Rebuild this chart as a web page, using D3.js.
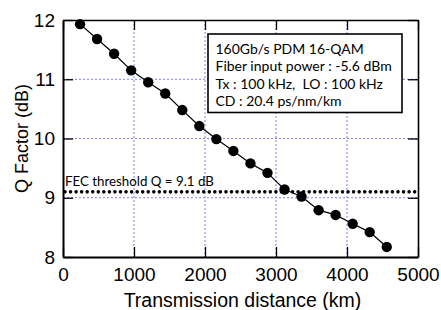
<!DOCTYPE html>
<html>
<head>
<meta charset="utf-8">
<script src="https://cdn.jsdelivr.net/npm/d3@7"></script>
<style>
  body { margin: 0; background: #fff; }
  svg { display: block; }
</style>
</head>
<body>
<div id="chart"></div>
<script>
// data
var distances = [240, 480, 720, 960, 1200, 1440, 1680, 1920, 2160, 2400,
                 2640, 2880, 3120, 3360, 3600, 3840, 4080, 4320, 4560];
var qFactor = [11.93, 11.68, 11.43, 11.15, 10.95, 10.76, 10.48, 10.21, 9.99, 9.79,
               9.58, 9.42, 9.14, 9.02, 8.79, 8.71, 8.56, 8.42, 8.17];
var xTicks = [0, 1000, 2000, 3000, 4000, 5000];
var yTicks = [8, 9, 10, 11, 12];
var fecThreshold = 9.1;
var fecLabel = "FEC threshold Q = 9.1 dB";
var infoLines = ["160Gb/s PDM 16-QAM", "Fiber input power : -5.6 dBm",
                 "Tx : 100 kHz,  LO : 100 kHz", "CD : 20.4 ps/nm/km"];

// set the dimensions and margins of the graph
var margin = {top: 20, right: 23, bottom: 53, left: 63},
    width = 441 - margin.left - margin.right,
    height = 310 - margin.top - margin.bottom;

var svg = d3.select("#chart")
  .append("svg")
    .attr("width", 441)
    .attr("height", 310)
  .append("g")
    .attr("transform", "translate(" + margin.left + "," + margin.top + ")");

var x = d3.scaleLinear().domain([0, 5000]).range([0, width]);
var y = d3.scaleLinear().domain([8, 12]).range([height, 0]);

// blue dotted grid
svg.append("g")
  .selectAll("line")
  .data(xTicks.slice(1, -1))
  .enter().append("line")
    .attr("x1", function(d) { return x(d); })
    .attr("x2", function(d) { return x(d); })
    .attr("y1", 0).attr("y2", height)
    .attr("stroke", "#7b7bff")
    .attr("stroke-width", 1)
    .attr("stroke-dasharray", "2,2");
svg.append("g")
  .selectAll("line")
  .data(yTicks.slice(1, -1))
  .enter().append("line")
    .attr("y1", function(d) { return y(d); })
    .attr("y2", function(d) { return y(d); })
    .attr("x1", 0).attr("x2", width)
    .attr("stroke", "#7b7bff")
    .attr("stroke-width", 1)
    .attr("stroke-dasharray", "2,2");

// axes, ticks pointing inward
var font = "'Liberation Sans', Arial, sans-serif";
var fmt = d3.format("d");
var xAxis = svg.append("g")
  .attr("transform", "translate(0," + height + ")")
  .call(d3.axisBottom(x).tickValues(xTicks).tickFormat(fmt).tickSizeInner(-10).tickSizeOuter(0).tickPadding(11));
var yAxis = svg.append("g")
  .call(d3.axisLeft(y).tickValues(yTicks).tickFormat(fmt).tickSizeInner(-10).tickSizeOuter(0).tickPadding(8));
var xTop = svg.append("g")
  .call(d3.axisTop(x).tickValues(xTicks).tickSizeInner(-10).tickSizeOuter(0).tickFormat(""));
var yRight = svg.append("g")
  .attr("transform", "translate(" + width + ",0)")
  .call(d3.axisRight(y).tickValues(yTicks).tickSizeInner(-10).tickSizeOuter(0).tickFormat(""));

[xAxis, yAxis, xTop, yRight].forEach(function(a) {
  a.attr("font-family", font).attr("font-size", 19);
  a.selectAll("path").attr("stroke", "#000").attr("stroke-width", 1.6);
  a.selectAll("line").attr("stroke", "#000").attr("stroke-width", 1.3);
  a.selectAll("text").attr("fill", "#000");
});
xAxis.select("path").attr("stroke-width", 2);
yAxis.select("path").attr("stroke-width", 2);

// axis titles
svg.append("text")
  .attr("x", width / 2 + 2)
  .attr("y", height + 50)
  .style("text-anchor", "middle")
  .style("font-family", font)
  .style("font-size", "19.5px")
  .text("Transmission distance (km)");
svg.append("text")
  .attr("transform", "rotate(-90)")
  .attr("x", -(height / 2) + 0)
  .attr("y", -margin.left + 28)
  .style("text-anchor", "middle")
  .style("font-family", font)
  .style("font-size", "18px")
  .text("Q Factor (dB)");

// FEC threshold line
svg.append("line")
  .attr("x1", x(0) + 2).attr("x2", x(5000))
  .attr("y1", y(fecThreshold)).attr("y2", y(fecThreshold))
  .attr("stroke", "#000")
  .attr("stroke-width", 3.6)
  .attr("stroke-linecap", "round")
  .attr("stroke-dasharray", "0,5.55");
svg.append("text")
  .attr("x", x(0) + 2)
  .attr("y", y(fecThreshold) - 6)
  .style("font-family", "Lato, 'Open Sans', sans-serif")
  .style("font-size", "13.3px")
  .text(fecLabel);

// data line and markers
svg.append("path")
  .datum(distances)
  .attr("fill", "none")
  .attr("stroke", "#000")
  .attr("stroke-width", 1.2)
  .attr("d", d3.line()
    .x(function(d) { return x(d); })
    .y(function(d, i) { return y(qFactor[i]); }));
svg.append("g")
  .selectAll("circle")
  .data(distances)
  .enter().append("circle")
    .attr("cx", function(d) { return x(d); })
    .attr("cy", function(d, i) { return y(qFactor[i]); })
    .attr("r", 5.2)
    .attr("fill", "#000");

// info box
var box = svg.append("g").attr("transform", "translate(" + (208 - margin.left) + "," + (34 - margin.top) + ")");
box.append("rect")
  .attr("width", 194).attr("height", 78.5)
  .attr("fill", "#fff")
  .attr("stroke", "#000")
  .attr("stroke-width", 1.6);
box.selectAll("text")
  .data(infoLines)
  .enter().append("text")
    .attr("x", 7.5)
    .attr("y", function(d, i) { return 19.5 + i * 17.6; })
    .style("font-family", "Lato, 'Open Sans', sans-serif")
    .style("font-size", "14px")
    .style("white-space", "pre")
    .text(function(d) { return d; });
</script>
</body>
</html>
